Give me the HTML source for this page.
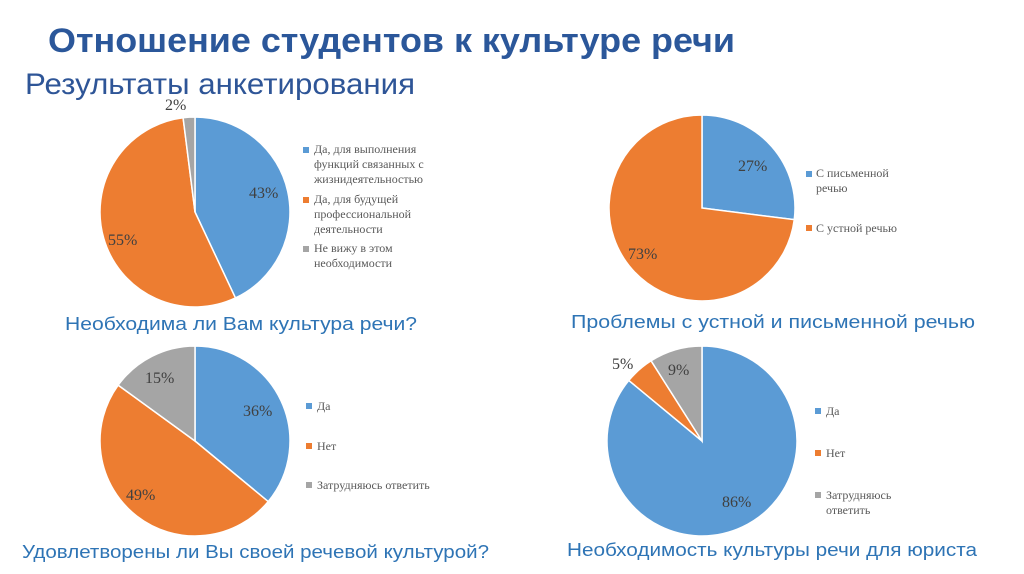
<!DOCTYPE html>
<html><head><meta charset="utf-8"><style>
html,body{margin:0;padding:0;background:#fff;}
svg{display:block;}
</style></head><body>
<svg id="s" width="1024" height="574" xmlns="http://www.w3.org/2000/svg" font-family="Liberation Serif, serif">
<text x="48" y="52" font-family="Liberation Sans, sans-serif" font-weight="bold" font-size="34" fill="#2b579a" textLength="687" lengthAdjust="spacingAndGlyphs">Отношение студентов к культуре речи</text>
<text x="25" y="94" font-family="Liberation Sans, sans-serif" font-size="30" fill="#2e5597" textLength="390" lengthAdjust="spacingAndGlyphs">Результаты анкетирования</text>
<g id="pies"></g>
<g font-size="16" fill="#404040">
<text x="165" y="110">2%</text>
<text x="249" y="198">43%</text>
<text x="108" y="245">55%</text>
<text x="738" y="171">27%</text>
<text x="628" y="259">73%</text>
<text x="145" y="383">15%</text>
<text x="243" y="416">36%</text>
<text x="126" y="500">49%</text>
<text x="612" y="369">5%</text>
<text x="668" y="375">9%</text>
<text x="722" y="507">86%</text>
</g>
<g font-size="12" fill="#595959">
<rect x="303" y="147" width="6" height="6" fill="#5b9bd5"/>
<text x="314" y="153">Да, для выполнения</text><text x="314" y="168">функций связанных с</text><text x="314" y="183">жизнидеятельностью</text>
<rect x="303" y="197" width="6" height="6" fill="#ed7d31"/>
<text x="314" y="203">Да, для будущей</text><text x="314" y="218">профессиональной</text><text x="314" y="233">деятельности</text>
<rect x="303" y="246" width="6" height="6" fill="#a5a5a5"/>
<text x="314" y="252">Не вижу в этом</text><text x="314" y="267">необходимости</text>
<rect x="806" y="171" width="6" height="6" fill="#5b9bd5"/>
<text x="816" y="177">С письменной</text><text x="816" y="192">речью</text>
<rect x="806" y="225" width="6" height="6" fill="#ed7d31"/>
<text x="816" y="232">С устной речью</text>
<rect x="306" y="403" width="6" height="6" fill="#5b9bd5"/>
<text x="317" y="410">Да</text>
<rect x="306" y="443" width="6" height="6" fill="#ed7d31"/>
<text x="317" y="450">Нет</text>
<rect x="306" y="482" width="6" height="6" fill="#a5a5a5"/>
<text x="317" y="489">Затрудняюсь ответить</text>
<rect x="815" y="408" width="6" height="6" fill="#5b9bd5"/>
<text x="826" y="415">Да</text>
<rect x="815" y="450" width="6" height="6" fill="#ed7d31"/>
<text x="826" y="457">Нет</text>
<rect x="815" y="492" width="6" height="6" fill="#a5a5a5"/>
<text x="826" y="499">Затрудняюсь</text><text x="826" y="514">ответить</text>
</g>
<g font-family="Liberation Sans, sans-serif" font-size="18" fill="#2e74b5">
<text x="65" y="330" textLength="352" lengthAdjust="spacingAndGlyphs">Необходима ли Вам культура речи?</text>
<text x="571" y="328" textLength="404" lengthAdjust="spacingAndGlyphs">Проблемы с устной и письменной речью</text>
<text x="22" y="558" textLength="467" lengthAdjust="spacingAndGlyphs">Удовлетворены ли Вы своей речевой культурой?</text>
<text x="567" y="556" textLength="410" lengthAdjust="spacingAndGlyphs">Необходимость культуры речи для юриста</text>
</g>
</svg>
<script>
var C=['#5b9bd5','#ed7d31','#a5a5a5'];
var pies=[[195,212,95,[43,55,2]],[702,208,93,[27,73]],[195,441,95,[36,49,15]],[702,441,95,[86,5,9]]];
var g=document.getElementById('pies'),h='';
pies.forEach(function(p){var cx=p[0],cy=p[1],r=p[2],a=0;
p[3].forEach(function(v,i){var a0=a/100*2*Math.PI,a1=(a+v)/100*2*Math.PI;a+=v;
var x0=cx+r*Math.sin(a0),y0=cy-r*Math.cos(a0),x1=cx+r*Math.sin(a1),y1=cy-r*Math.cos(a1);
h+='<path d="M'+cx+','+cy+'L'+x0+','+y0+'A'+r+','+r+' 0 '+(v>50?1:0)+',1 '+x1+','+y1+'Z" fill="'+C[i]+'" stroke="#fff" stroke-width="1.5"/>';});});
g.innerHTML=h;
</script>
</body></html>
